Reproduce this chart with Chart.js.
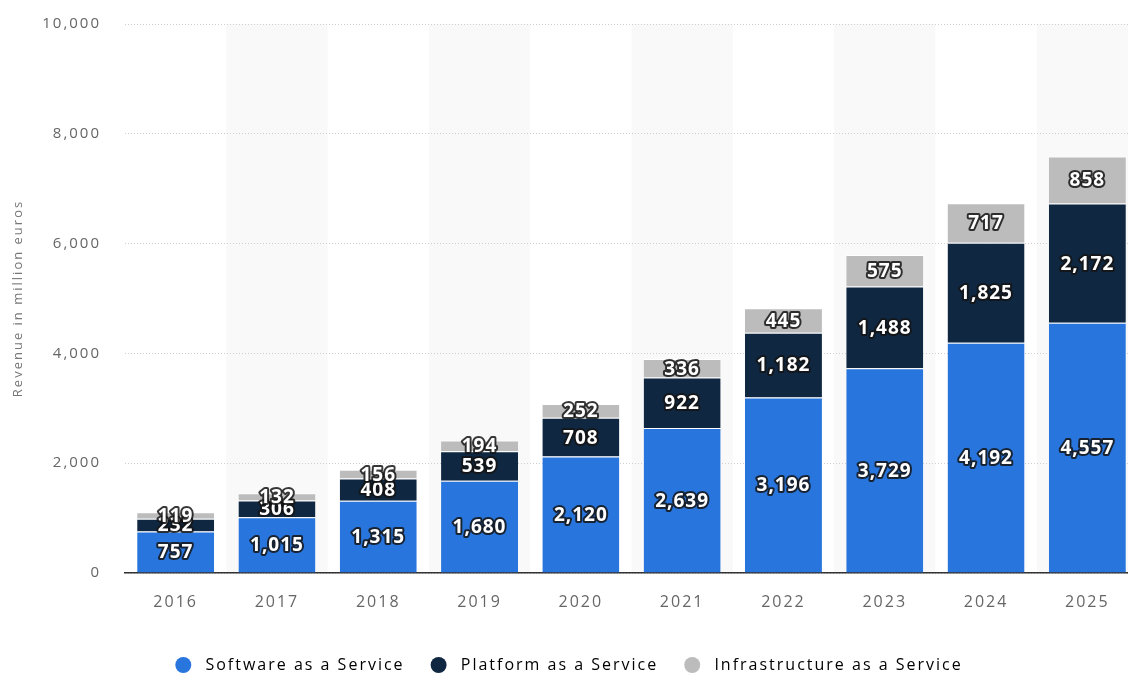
<!DOCTYPE html>
<html>
<head>
<meta charset="utf-8">
<script src="https://cdn.jsdelivr.net/npm/chart.js@4/dist/chart.umd.min.js"></script>
<style>
  html, body { margin: 0; padding: 0; background: #fff; overflow: hidden; }
  #wrap { width: 1138px; height: 674px; }
</style>
</head>
<body>
<div id="wrap"><canvas id="myChart" width="1138" height="674"></canvas></div>
<script>
const years = ['2016', '2017', '2018', '2019', '2020', '2021', '2022', '2023', '2024', '2025'];
const saas = [757, 1015, 1315, 1680, 2120, 2639, 3196, 3729, 4192, 4557];
const paas = [232, 306, 408, 539, 708, 922, 1182, 1488, 1825, 2172];
const iaas = [119, 132, 156, 194, 252, 336, 445, 575, 717, 858];
const yTicks = [0, 2000, 4000, 6000, 8000, 10000];

const fontFamily = '"Open Sans", "Noto Sans", sans-serif';
const textSpacing = '2px';

// wider tracking for axis and legend text
const tracking = {
    id: 'tracking',
    beforeUpdate(chart) { chart.ctx.letterSpacing = textSpacing; },
    beforeDraw(chart) { chart.ctx.letterSpacing = textSpacing; }
};

// light stripes behind every second year
const stripes = {
    id: 'stripes',
    beforeDraw(chart) {
        const { ctx, chartArea, scales } = chart;
        const x = scales.x;
        const step = x.getPixelForValue(1) - x.getPixelForValue(0);
        ctx.save();
        ctx.fillStyle = '#f9f9f9';
        for (let i = 1; i < years.length; i += 2) {
            const cx = x.getPixelForValue(i);
            ctx.fillRect(cx - step / 2, chartArea.top, step, chartArea.bottom - chartArea.top);
        }
        ctx.restore();
    }
};

// value labels in the middle of each segment
const segmentLabels = {
    id: 'segmentLabels',
    afterDatasetsDraw(chart) {
        const ctx = chart.ctx;
        ctx.save();
        ctx.letterSpacing = '1px';
        ctx.font = 'bold 19px ' + fontFamily;
        ctx.textAlign = 'center';
        ctx.textBaseline = 'middle';
        ctx.lineJoin = 'round';
        chart.data.datasets.forEach((ds, di) => {
            const meta = chart.getDatasetMeta(di);
            meta.data.forEach((bar, i) => {
                const { x, y, base } = bar.getProps(['x', 'y', 'base'], true);
                const cy = (y + base) / 2 + 1;
                const txt = ds.data[i].toLocaleString('en-US');
                ctx.strokeStyle = 'rgba(20,20,20,0.85)';
                ctx.lineWidth = 4;
                ctx.strokeText(txt, x, cy);
                ctx.fillStyle = '#ffffff';
                ctx.fillText(txt, x, cy);
            });
        });
        ctx.restore();
    }
};

const sep = { top: 1, right: 0, bottom: 0, left: 0 };

new Chart(document.getElementById('myChart').getContext('2d'), {
    type: 'bar',
    data: {
        labels: years,
        datasets: [
            { label: 'Software as a Service', data: saas, backgroundColor: '#2876dd', borderColor: '#ffffff', borderWidth: sep, borderSkipped: false },
            { label: 'Platform as a Service', data: paas, backgroundColor: '#0f2741', borderColor: '#ffffff', borderWidth: sep, borderSkipped: false },
            { label: 'Infrastructure as a Service', data: iaas, backgroundColor: '#bcbcbc', borderColor: '#ffffff', borderWidth: sep, borderSkipped: false }
        ]
    },
    options: {
        responsive: false,
        animation: false,
        devicePixelRatio: 1,
        layout: { padding: { top: 24, right: 0, bottom: -9, left: 0 } },
        datasets: {
            bar: { categoryPercentage: 1, barPercentage: 0.76 }
        },
        plugins: {
            tooltip: { enabled: false },
            legend: {
                position: 'bottom',
                labels: {
                    usePointStyle: true,
                    pointStyle: 'circle',
                    boxHeight: 11.3,
                    pointStyleWidth: 16,
                    padding: 26,
                    color: '#333',
                    font: { family: fontFamily, size: 16 },
                    generateLabels(chart) {
                        // leading space widens the gap after the dot
                        return chart.data.datasets.map((ds, i) => ({
                            text: ' ' + ds.label,
                            fillStyle: ds.backgroundColor,
                            strokeStyle: ds.backgroundColor,
                            lineWidth: 0,
                            pointStyle: 'circle',
                            datasetIndex: i,
                            hidden: false
                        }));
                    }
                }
            }
        },
        scales: {
            x: {
                stacked: true,
                grid: { display: false },
                border: { display: true, color: '#333', width: 1.5 },
                ticks: { color: '#666', padding: 12, font: { family: fontFamily, size: 16 } },
                afterFit(axis) { axis.height = 58; }
            },
            y: {
                stacked: true,
                min: 0,
                max: 10000,
                afterBuildTicks(axis) { axis.ticks = yTicks.map(v => ({ value: v })); },
                grid: { color: '#cfcfcf', drawTicks: false, lineWidth: 1 },
                border: { display: false, dash: [1, 2] },
                ticks: {
                    color: '#666',
                    padding: 24,
                    font: { family: fontFamily, size: 15 },
                    callback: v => v.toLocaleString('en-US')
                },
                title: {
                    display: true,
                    text: 'Revenue in million euros',
                    color: '#777',
                    padding: { top: 10, bottom: 0 },
                    font: { family: fontFamily, size: 13 }
                },
                afterFit(axis) {
                    axis.width = 125;
                    axis.paddingTop = 0;
                    axis.paddingBottom = 0;
                }
            }
        }
    },
    plugins: [tracking, stripes, segmentLabels]
});
</script>
</body>
</html>
